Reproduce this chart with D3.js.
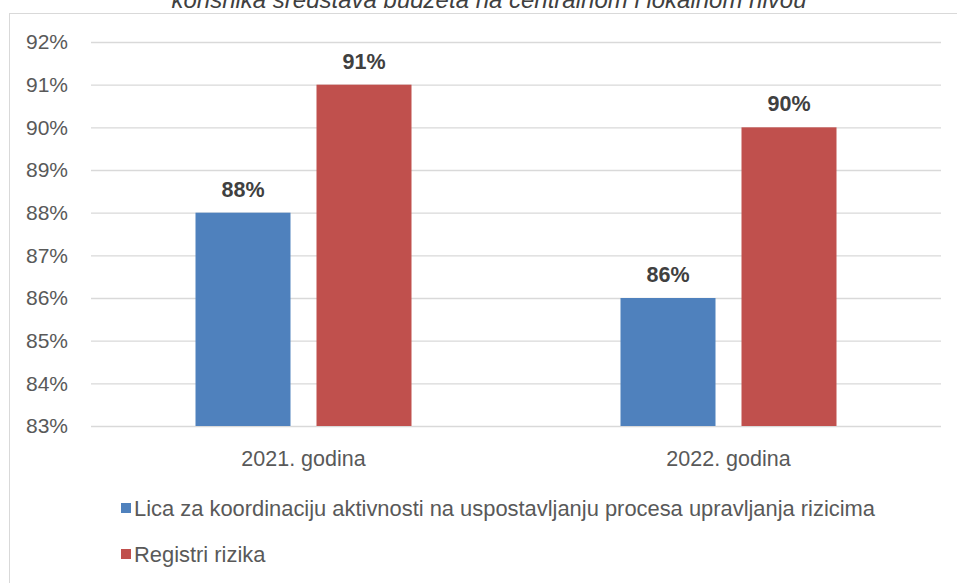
<!DOCTYPE html>
<html><head><meta charset="utf-8">
<script src="https://cdn.jsdelivr.net/npm/d3@7"></script>
<style>body{margin:0;background:#fff}svg{display:block}</style>
</head><body>
<script>
const categories = ["2021. godina", "2022. godina"];
const seriesNames = ["Lica za koordinaciju aktivnosti na uspostavljanju procesa upravljanja rizicima", "Registri rizika"];
const seriesA = [88, 86];
const seriesB = [91, 90];
const tickValues = [83, 84, 85, 86, 87, 88, 89, 90, 91, 92];
const title = "korisnika sredstava budžeta na centralnom i lokalnom nivou";
const colors = ["#4F81BD", "#C0504D"];

const W = 957, H = 583;
const FONT = "'Liberation Sans', Arial, sans-serif";
const svg = d3.select("body").append("svg").attr("width", W).attr("height", H);

svg.append("rect").attr("x", 9.5).attr("y", 13.5).attr("width", 960).attr("height", 600)
  .attr("fill", "#fff").attr("stroke", "#d9d9d9");

svg.append("text").attr("x", 489).attr("y", 8).attr("text-anchor", "middle")
  .attr("font-family", FONT).attr("font-style", "italic").attr("font-size", 24).attr("fill", "#404040")
  .text(title);

const x0 = d3.scaleBand().domain(categories).range([91, 941]);
const y = d3.scaleLinear().domain([83, 92]).range([426, 42]);

const yAxis = svg.append("g").attr("transform", "translate(91,0)")
  .call(d3.axisLeft(y).tickValues(tickValues).tickSize(-850).tickFormat(d => d + "%").tickPadding(23));
yAxis.select(".domain").remove();
yAxis.selectAll("line").attr("stroke", "#d9d9d9").attr("stroke-width", 1.3);
yAxis.selectAll("text").attr("font-family", FONT).attr("font-size", 21).attr("fill", "#595959");

const xAxis = svg.append("g").attr("transform", "translate(0,426)")
  .call(d3.axisBottom(x0).tickSize(0).tickPadding(25));
xAxis.select(".domain").remove();
xAxis.selectAll("text").attr("font-family", FONT).attr("font-size", 21.5).attr("fill", "#595959");

const data = categories.map((c, i) => ({ c, vals: [seriesA[i], seriesB[i]] }));
const bw = 95, gap = 26;
const g = svg.append("g");
data.forEach(d => {
  const cx = x0(d.c) + x0.bandwidth() / 2;
  d.vals.forEach((v, j) => {
    const bx = j === 0 ? cx - gap / 2 - bw : cx + gap / 2;
    g.append("rect").attr("x", bx).attr("y", y(v)).attr("width", bw).attr("height", y(83) - y(v))
      .attr("fill", colors[j]);
    g.append("text").attr("x", bx + bw / 2).attr("y", y(v) - 16).attr("text-anchor", "middle")
      .attr("font-family", FONT).attr("font-weight", "bold").attr("font-size", 21.5).attr("fill", "#404040")
      .text(v + "%");
  });
});

const legend = svg.append("g");
seriesNames.forEach((s, i) => {
  const ly = 508 + i * 46;
  legend.append("rect").attr("x", 121).attr("y", ly - 5).attr("width", 10).attr("height", 10).attr("fill", colors[i]);
  legend.append("text").attr("x", 134).attr("y", ly + 8).attr("font-family", FONT).attr("font-size", 21.9)
    .attr("fill", "#595959").text(s);
});
</script>
</body></html>
